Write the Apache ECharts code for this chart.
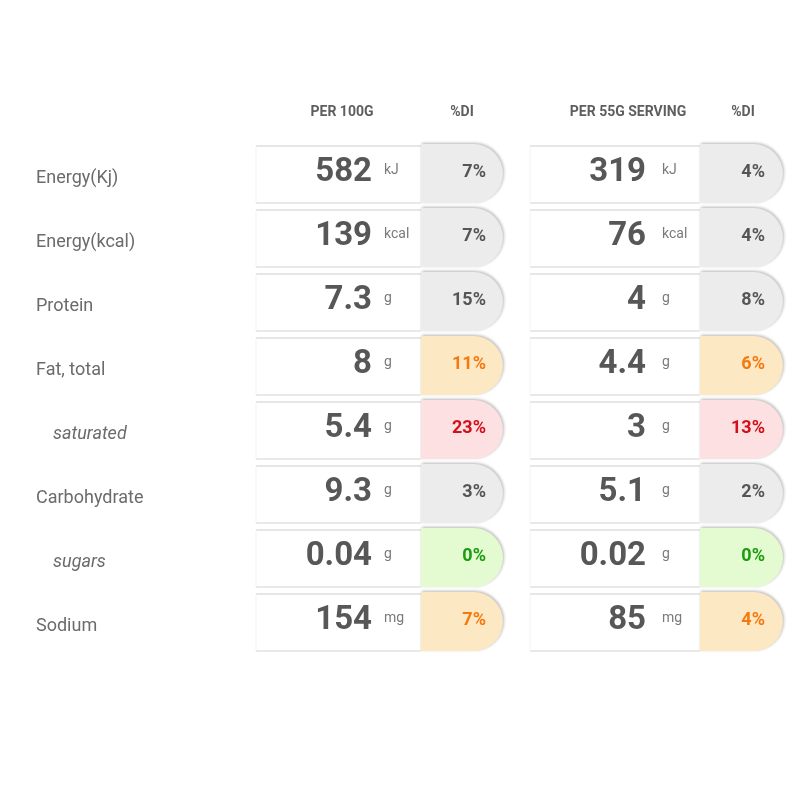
<!DOCTYPE html>
<html>
<head>
<meta charset="utf-8">
<script src="https://cdn.jsdelivr.net/npm/echarts@6/dist/echarts.min.js"></script>
<style>html,body{margin:0;padding:0;background:#fff}#c{width:800px;height:800px}</style>
</head>
<body>
<div id="c"></div>
<script>
const nutrients = ['Energy(Kj)', 'Energy(kcal)', 'Protein', 'Fat, total', 'saturated', 'Carbohydrate', 'sugars', 'Sodium'];
const subItem = [false, false, false, false, true, false, true, false];
const units = ['kJ', 'kcal', 'g', 'g', 'g', 'g', 'g', 'mg'];
const per100g = [582, 139, 7.3, 8, 5.4, 9.3, 0.04, 154];
const di100g = [7, 7, 15, 11, 23, 3, 0, 7];
const perServing = [319, 76, 4, 4.4, 3, 5.1, 0.02, 85];
const diServing = [4, 4, 8, 6, 13, 2, 0, 4];
const levels = ['neutral', 'neutral', 'neutral', 'medium', 'high', 'neutral', 'low', 'medium'];
const headers = ['PER 100G', '%DI', 'PER 55G SERVING', '%DI'];

const FONT = 'Roboto';
const levelStyle = {
  neutral: { fill: '#ececec', text: '#555555' },
  medium: { fill: '#fde8c4', text: '#f47a10' },
  high: { fill: '#fde0e1', text: '#d0101a' },
  low: { fill: '#e4fbd2', text: '#1c9c10' }
};
const groups = [
  { boxX: 256, boxW: 165, pillW: 82, valRight: 372, unitX: 384, pctRight: 486, values: per100g, dis: di100g, headX: [342, 462] },
  { boxX: 530, boxW: 170, pillW: 83, valRight: 646, unitX: 662, pctRight: 765, values: perServing, dis: diServing, headX: [628, 743] }
];

const chart = echarts.init(document.getElementById('c'), null, { renderer: 'canvas' });

function renderItem(params, api) {
  const i = api.value(0);
  const children = [];
  const c = api.coord([0, i])[1];
  groups.forEach(g => {
    const bx = api.coord([g.boxX, i])[0];
    const px = api.coord([g.boxX + g.boxW, i])[0];
    const st = levelStyle[levels[i]];
    children.push({
      type: 'rect',
      shape: { x: bx, y: c - 29, width: g.boxW, height: 57 },
      style: { fill: '#ffffff', stroke: '#f3f3f3', lineWidth: 1 }
    });
    children.push({ type: 'line', shape: { x1: bx, y1: c - 29, x2: bx + g.boxW, y2: c - 29 }, style: { stroke: '#e6e6e6', lineWidth: 2 } });
    children.push({ type: 'line', shape: { x1: bx, y1: c + 28, x2: bx + g.boxW, y2: c + 28 }, style: { stroke: '#e9e9e9', lineWidth: 2 } });
    children.push({
      type: 'rect',
      shape: { x: px, y: c - 31, width: g.pillW, height: 59, r: [0, 29.5, 29.5, 0] },
      style: { fill: st.fill, shadowColor: 'rgba(0,0,0,0.28)', shadowBlur: 3, shadowOffsetX: 1, shadowOffsetY: -1 }
    });
    children.push({
      type: 'text',
      style: { x: api.coord([g.valRight, i])[0], y: c - 2, text: String(g.values[i]), align: 'right', verticalAlign: 'middle',
        font: 'bold 33px ' + FONT, fill: '#575757' }
    });
    children.push({
      type: 'text',
      style: { x: api.coord([g.unitX, i])[0], y: c - 5, text: units[i], align: 'left', verticalAlign: 'middle',
        font: '14px ' + FONT, fill: '#7a7a7a' }
    });
    children.push({
      type: 'text',
      style: { x: api.coord([g.pctRight, i])[0], y: c - 3, text: g.dis[i] + '%', align: 'right', verticalAlign: 'middle',
        font: 'bold 18px ' + FONT, fill: st.text }
    });
  });
  return { type: 'group', children: children };
}

const headerGraphics = [];
groups.forEach((g, gi) => {
  headerGraphics.push({ type: 'text', x: g.headX[0], y: 112, style: { text: headers[gi * 2], align: 'center', verticalAlign: 'middle', font: 'bold 14px ' + FONT, fill: '#5e5e5e' } });
  headerGraphics.push({ type: 'text', x: g.headX[1], y: 112, style: { text: headers[gi * 2 + 1], align: 'center', verticalAlign: 'middle', font: 'bold 14px ' + FONT, fill: '#5e5e5e' } });
});

chart.setOption({
  animation: false,
  backgroundColor: '#ffffff',
  grid: { left: 0, right: 0, top: 143, height: 512 },
  xAxis: { type: 'value', min: 0, max: 800, show: false },
  yAxis: {
    type: 'category', inverse: true, data: nutrients,
    axisLine: { show: false }, axisTick: { show: false }, splitLine: { show: false },
    axisLabel: {
      inside: true, margin: 36, align: 'left',
      formatter: (v, idx) => subItem[idx] ? '{sub|' + v + '}' : '{main|' + v + '}',
      rich: {
        main: { fontFamily: FONT, fontSize: 18, color: '#6b6b6b', padding: [6, 0, 0, 0] },
        sub: { fontFamily: FONT, fontSize: 18, fontStyle: 'italic', color: '#6b6b6b', padding: [6, 0, 0, 17] }
      }
    }
  },
  graphic: headerGraphics,
  series: [{
    type: 'custom',
    renderItem: renderItem,
    data: nutrients.map((n, i) => [i]),
    encode: { y: 0 },
    z: 2
  }]
});
</script>
</body>
</html>
